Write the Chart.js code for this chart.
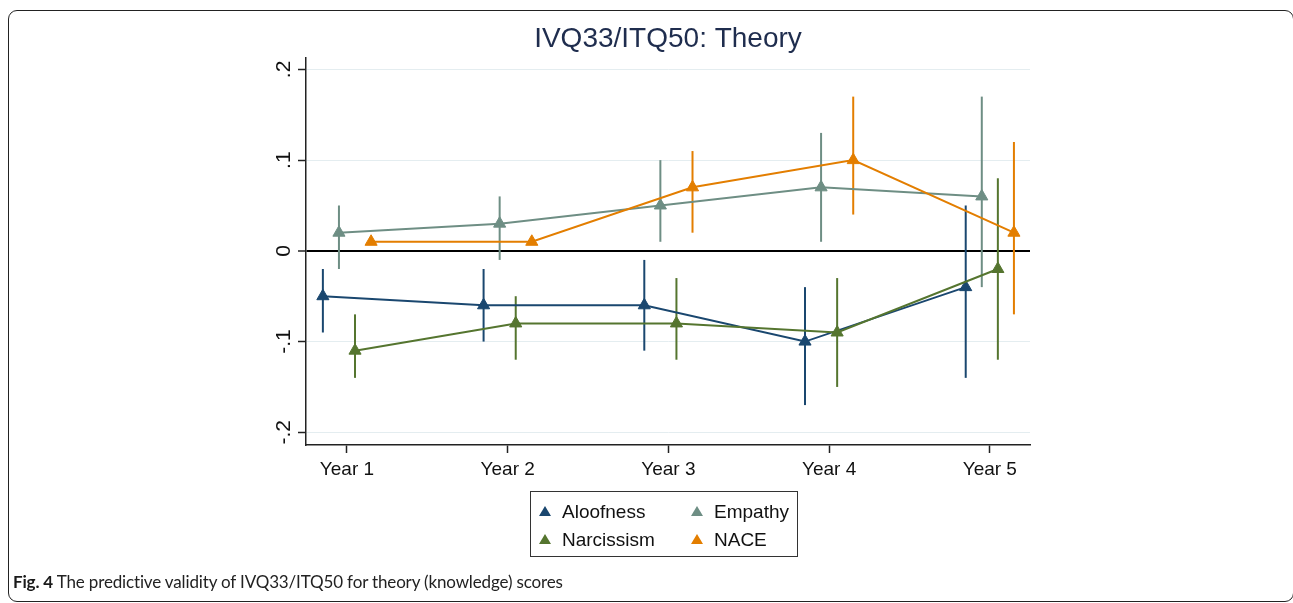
<!DOCTYPE html>
<html>
<head>
<meta charset="utf-8">
<script src="https://cdn.jsdelivr.net/npm/chart.js@4"></script>
<style>
  html, body { margin: 0; padding: 0; background: #fff; }
  #wrap { position: relative; width: 1293px; height: 603px; overflow: hidden; }
  #c { position: absolute; left: 0; top: 0; }
  #frame {
    position: absolute; left: 8px; top: 10px; width: 1284px; height: 590px;
    border: 1.5px solid #222; border-radius: 9px; pointer-events: none;
  }
  #caption {
    position: absolute; left: 13px; top: 571px;
    font-family: Lato, "Open Sans", sans-serif; font-size: 17px; color: #222;
    letter-spacing: -0.15px; white-space: nowrap;
  }
  #caption b { color: #1a1a1a; }
</style>
</head>
<body>
<div id="wrap">
  <canvas id="c" width="1293" height="603"></canvas>
  <div id="frame"></div>
  <div id="caption"><b>Fig. 4</b> The predictive validity of IVQ33/ITQ50 for theory (knowledge) scores</div>
</div>
<script>
// Categories and tick labels
const years = ['Year 1', 'Year 2', 'Year 3', 'Year 4', 'Year 5'];
const yTicks = [-0.2, -0.1, 0, 0.1, 0.2];
const yTickLabels = ['-.2', '-.1', '0', '.1', '.2'];

// Point estimates and confidence limits
const aloofness   = [-0.05, -0.06, -0.06, -0.10, -0.04];
const aloofnessLo = [-0.09, -0.10, -0.11, -0.17, -0.14];
const aloofnessHi = [-0.02, -0.02, -0.01, -0.04,  0.05];

const empathy   = [0.02, 0.03, 0.05, 0.07, 0.06];
const empathyLo = [-0.02, -0.01, 0.01, 0.01, -0.04];
const empathyHi = [0.05, 0.06, 0.10, 0.13, 0.17];

const narcissism   = [-0.11, -0.08, -0.08, -0.09, -0.02];
const narcissismLo = [-0.14, -0.12, -0.12, -0.15, -0.12];
const narcissismHi = [-0.07, -0.05, -0.03, -0.03,  0.08];

const nace   = [0.01, 0.01, 0.07, 0.10, 0.02];
const naceLo = [null, null, 0.02, 0.04, -0.07];
const naceHi = [null, null, 0.11, 0.17, 0.12];

// horizontal dodge of each series around the year position
const dodge = [-0.15, -0.05, 0.05, 0.15];

const FONT = '"Liberation Sans", Arial, sans-serif';

function makeSet(label, values, lo, hi, color, k) {
    return {
        label,
        data: values.map((v, i) => ({ x: i + 1 + dodge[k], y: v })),
        lo, hi,
        borderColor: color,
        backgroundColor: color,
        borderWidth: 2,
        pointStyle: 'triangle',
        pointRadius: 7,
        pointHoverRadius: 7,
        pointBorderWidth: 1,
        tension: 0,
        order: 4 - k
    };
}

const datasets = [
    makeSet('Aloofness', aloofness, aloofnessLo, aloofnessHi, '#1a476f', 0),
    makeSet('Empathy', empathy, empathyLo, empathyHi, '#6e8e84', 1),
    makeSet('Narcissism', narcissism, narcissismLo, narcissismHi, '#55752f', 2),
    makeSet('NACE', nace, naceLo, naceHi, '#e37e00', 3)
];

// Vertical CI spikes, drawn under the lines and markers
const errorBars = {
    id: 'errorBars',
    beforeDatasetsDraw(chart) {
        const { ctx, scales: { x, y } } = chart;
        ctx.save();
        chart.data.datasets.forEach(ds => {
            ds.lo.forEach((lo, i) => {
                if (lo == null) return;
                const px = x.getPixelForValue(ds.data[i].x);
                ctx.beginPath();
                ctx.moveTo(px, y.getPixelForValue(lo));
                ctx.lineTo(px, y.getPixelForValue(ds.hi[i]));
                ctx.strokeStyle = ds.borderColor;
                ctx.lineWidth = 2;
                ctx.stroke();
            });
        });
        ctx.restore();
    }
};

// Y tick labels rotated like the Stata original
const rotatedYLabels = {
    id: 'rotatedYLabels',
    afterDraw(chart) {
        const { ctx, scales: { y }, chartArea } = chart;
        ctx.save();
        ctx.font = '21px ' + FONT;
        ctx.fillStyle = '#111';
        ctx.textAlign = 'center';
        ctx.textBaseline = 'middle';
        yTicks.forEach((v, i) => {
            ctx.save();
            ctx.translate(chartArea.left - 22, y.getPixelForValue(v));
            ctx.rotate(-Math.PI / 2);
            ctx.fillText(yTickLabels[i], 0, 0);
            ctx.restore();
        });
        ctx.restore();
    }
};

// Boxed two-column legend below the axis
const boxLegend = {
    id: 'boxLegend',
    afterDraw(chart) {
        const { ctx, chartArea } = chart;
        const cx = (chartArea.left + chartArea.right) / 2;
        const left = cx - 138, top = chartArea.bottom + 46;
        ctx.save();
        ctx.strokeStyle = '#333';
        ctx.lineWidth = 1;
        ctx.strokeRect(left + 0.5, top + 0.5, 267, 65);
        ctx.font = '19px ' + FONT;
        ctx.textBaseline = 'middle';
        ctx.fillStyle = '#111';
        chart.data.datasets.forEach((ds, k) => {
            const col = k % 2, row = Math.floor(k / 2);
            const mx = left + 15 + col * 152;
            const my = top + 21 + row * 28;
            ctx.fillStyle = ds.borderColor;
            ctx.beginPath();
            ctx.moveTo(mx, my - 6);
            ctx.lineTo(mx + 6, my + 4);
            ctx.lineTo(mx - 6, my + 4);
            ctx.closePath();
            ctx.fill();
            ctx.fillStyle = '#111';
            ctx.fillText(ds.label, mx + 17, my + 1);
        });
        ctx.restore();
    }
};

new Chart(document.getElementById('c'), {
    type: 'line',
    data: { datasets },
    options: {
        responsive: false,
        animation: false,
        layout: { padding: { left: 250, right: 263, top: 0, bottom: 118 } },
        plugins: {
            legend: { display: false },
            tooltip: { enabled: false },
            title: {
                display: true,
                fullSize: false,
                text: 'IVQ33/ITQ50: Theory',
                color: '#1f2d4e',
                font: { family: FONT, size: 28, weight: 'normal' },
                padding: { top: 22, bottom: 2 }
            }
        },
        scales: {
            x: {
                type: 'linear',
                min: 0.745,
                max: 5.25,
                afterBuildTicks: s => { s.ticks = years.map((_, i) => ({ value: i + 1 })); },
                afterFit: s => { s.height = 40; },
                ticks: {
                    callback: (v, i) => years[i],
                    font: { family: FONT, size: 19 },
                    color: '#111',
                    padding: 5,
                    maxRotation: 0,
                    autoSkip: false
                },
                grid: { drawOnChartArea: false, tickLength: 8, tickColor: '#222', tickWidth: 1.5 },
                border: { color: '#222', width: 1.5 }
            },
            y: {
                min: -0.214,
                max: 0.213,
                afterBuildTicks: s => { s.ticks = yTicks.map(v => ({ value: v })); },
                afterFit: s => { s.width = 56; },
                ticks: { display: false },
                grid: {
                    color: c => (c.tick && c.tick.value === 0) ? '#000' : '#e4edf0',
                    lineWidth: c => (c.tick && c.tick.value === 0) ? 2 : 1,
                    tickLength: 8,
                    tickColor: '#222',
                    tickWidth: 1.5
                },
                border: { color: '#222', width: 1.5 }
            }
        }
    },
    plugins: [errorBars, rotatedYLabels, boxLegend]
});
</script>
</body>
</html>
